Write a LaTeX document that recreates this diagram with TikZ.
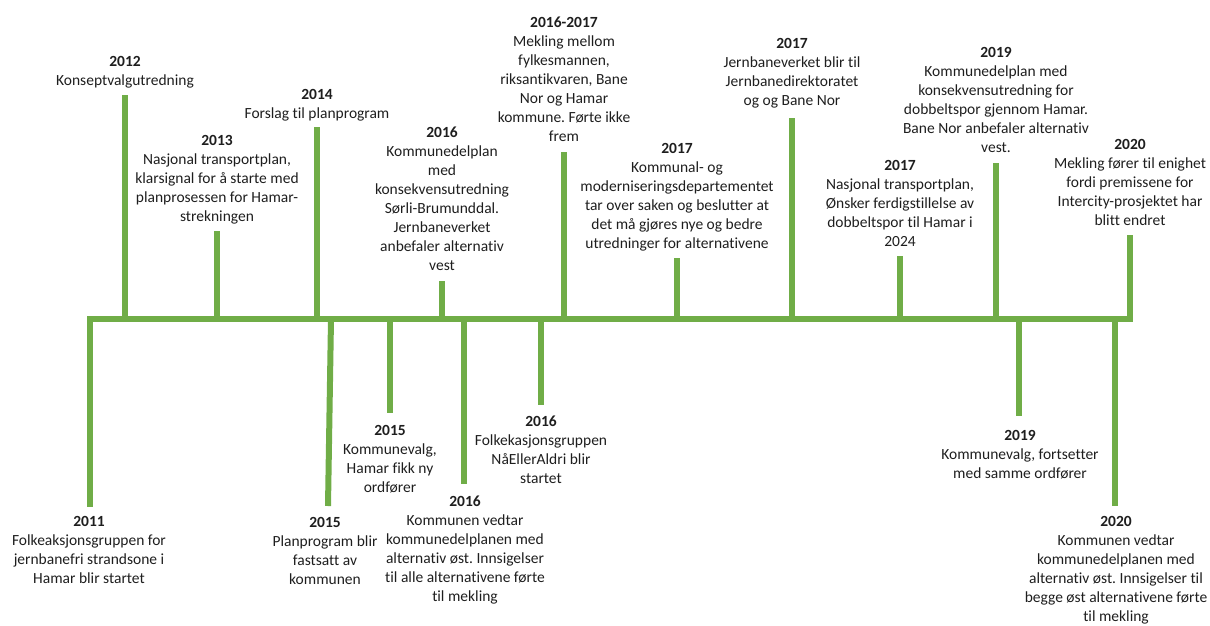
\documentclass[tikz,border=0pt]{standalone}
\usepackage{fontspec}
\setmainfont{Carlito}[Ligatures=NoCommon]
\frenchspacing
\definecolor{tlgreen}{HTML}{70AD47}
\definecolor{tltext}{HTML}{1E1E1E}
\begin{document}
\begin{tikzpicture}[x=1pt,y=-1pt,
  barline/.style={line width=6pt,draw=tlgreen},
  tickline/.style={line width=6pt,draw=tlgreen},
  ev/.style={anchor=north,align=center,inner sep=0pt,outer sep=0pt,
    font=\fontsize{15.5}{19}\selectfont\frenchspacing,text=tltext}]
\useasboundingbox (0,0) rectangle (1210,626);

% ---- event texts above the bar ----
\node[ev] (u1)  at (125,56)   {\textbf{2012}\\Konseptvalgutredning};
\node[ev] (u2)  at (217,135)  {\textbf{2013}\\Nasjonal transportplan,\\klarsignal for å starte med\\planprosessen for Hamar-\\strekningen};
\node[ev] (u3)  at (317,89.5) {\textbf{2014}\\Forslag til planprogram};
\node[ev] (u4)  at (442,126.5){\textbf{2016}\\Kommunedelplan\\med\\konsekvensutredning\\Sørli-Brumunddal.\\Jernbaneverket\\anbefaler alternativ\\vest};
\node[ev] (u5)  at (564,17)   {\textbf{2016-2017}\\Mekling mellom\\fylkesmannen,\\riksantikvaren, Bane\\Nor og Hamar\\kommune. Førte ikke\\frem};
\node[ev] (u6)  at (677,143)  {\textbf{2017}\\Kommunal- og\\moderniseringsdepartementet\\tar over saken og beslutter at\\det må gjøres nye og bedre\\utredninger for alternativene};
\node[ev] (u7)  at (792,38)   {\textbf{2017}\\Jernbaneverket blir til\\Jernbanedirektoratet\\og og Bane Nor};
\node[ev] (u8)  at (900,160)  {\textbf{2017}\\Nasjonal transportplan,\\Ønsker ferdigstillelse av\\dobbeltspor til Hamar i\\2024};
\node[ev] (u9)  at (996,47)   {\textbf{2019}\\Kommunedelplan med\\konsekvensutredning for\\dobbeltspor gjennom Hamar.\\Bane Nor anbefaler alternativ\\vest.};
\node[ev] (u10) at (1130,139) {\textbf{2020}\\Mekling fører til enighet\\fordi premissene for\\Intercity-prosjektet har\\blitt endret};

% ---- event texts below the bar ----
\node[ev] (d1) at (89,516)    {\textbf{2011}\\Folkeaksjonsgruppen for\\jernbanefri strandsone i\\Hamar blir startet};
\node[ev] (d2) at (325,517)   {\textbf{2015}\\Planprogram blir\\fastsatt av\\kommunen};
\node[ev] (d3) at (390,425)   {\textbf{2015}\\Kommunevalg,\\Hamar fikk ny\\ordfører};
\node[ev] (d4) at (465,495.5) {\textbf{2016}\\Kommunen vedtar\\kommunedelplanen med\\alternativ øst. Innsigelser\\til alle alternativene førte\\til mekling};
\node[ev] (d5) at (541,415.5) {\textbf{2016}\\Folkekasjonsgruppen\\NåEllerAldri blir\\startet};
\node[ev] (d6) at (1020,430)  {\textbf{2019}\\Kommunevalg, fortsetter\\med samme ordfører};
\node[ev] (d7) at (1116,516)  {\textbf{2020}\\Kommunen vedtar\\kommunedelplanen med\\alternativ øst. Innsigelser til\\begge øst alternativene førte\\til mekling};

% ---- tick coordinates ----
\coordinate (u1b) at (125,319);  \coordinate (u1t) at (125,95);
\coordinate (u2b) at (217,319);  \coordinate (u2t) at (217,231);
\coordinate (u3b) at (317,319);  \coordinate (u3t) at (317,127);
\coordinate (u4b) at (442,319);  \coordinate (u4t) at (442,281);
\coordinate (u5b) at (564,319);  \coordinate (u5t) at (564,152);
\coordinate (u6b) at (677,319);  \coordinate (u6t) at (677,258);
\coordinate (u7b) at (792,319);  \coordinate (u7t) at (792,118);
\coordinate (u8b) at (900,319);  \coordinate (u8t) at (900,256);
\coordinate (u9b) at (996,319);  \coordinate (u9t) at (996,163);
\coordinate (u10b) at (1130,319); \coordinate (u10t) at (1130,235);

\coordinate (d1b) at (90,319);   \coordinate (d1t) at (90,507);
\coordinate (d2b) at (331,319);  \coordinate (d2t) at (328,506);
\coordinate (d3b) at (390,319);  \coordinate (d3t) at (390,413);
\coordinate (d4b) at (464,319);  \coordinate (d4t) at (464,484);
\coordinate (d5b) at (541,319);  \coordinate (d5t) at (541,405);
\coordinate (d6b) at (1019,319); \coordinate (d6t) at (1019,416);
\coordinate (d7b) at (1115,319); \coordinate (d7t) at (1115,506);

\foreach \n in {u1,u2,u3,u4,u5,u6,u7,u8,u9,u10,d1,d2,d3,d4,d5,d6,d7}
  \draw[tickline] (\n b) -- (\n t);

% ---- main bar ----
\coordinate (barL) at (87,319);
\coordinate (barR) at (1133,319);
\draw[barline] (barL) -- (barR);
\end{tikzpicture}
\end{document}
